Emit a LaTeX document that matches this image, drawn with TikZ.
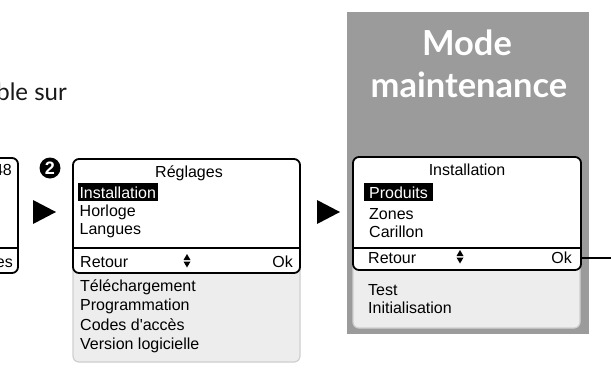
\documentclass[tikz,border=0pt]{standalone}
\usepackage{fontspec}
\setmainfont{Liberation Sans}[Ligatures=TeXOff]
\newfontfamily\latofont{Lato}
\definecolor{modegray}{HTML}{9B9B9B}
\definecolor{listgray}{HTML}{EDEDED}
\definecolor{listedge}{HTML}{CFCFCF}
\begin{document}
\begin{tikzpicture}[x=1pt,y=-1pt,
  lcd/.style={draw=black,line width=1.8pt,rounded corners=6pt,fill=white,inner sep=0pt},
  listpanel/.style={draw=listedge,line width=1.2pt,fill=listgray,rounded corners=6pt},
  menutext/.style={font=\fontsize{16}{19}\selectfont,inner sep=0pt,anchor=base west},
  selitem/.style={font=\fontsize{16}{19}\selectfont,fill=black,text=white,anchor=base west,text height=11.5pt,text depth=0pt,inner ysep=3.2pt},
  titletext/.style={font=\latofont\bfseries\fontsize{34.5}{40}\selectfont,text=white,inner sep=0pt,anchor=base},
  nextarrow/.style={fill=black},
]
\useasboundingbox (0,0) rectangle (611,381);
\clip (0,0) rectangle (611,381);

% intro text (cut at left edge)
\node[font=\latofont\fontsize{24}{28}\selectfont,text=black!90,inner sep=0pt,anchor=base east] (intro) at (67,100) {ble sur};

% left partial screen
\node[lcd,minimum width=60pt,minimum height=115pt] (prev) at (-12,215.5) {};
\draw[line width=1.8pt] (prev.west |- 0,248) -- (prev.east |- 0,248);
\node[menutext,anchor=base east] (prev48) at (12,175) {48};
\node[menutext,anchor=base east] (preves) at (13,267) {es};

% step number
\node[circle,fill=black,minimum size=21pt,inner sep=0pt,text=white,font=\bfseries\fontsize{18}{18}\selectfont] (step2) at (50,168) {2};
\fill[nextarrow] (33,200) -- (56,212) -- (33,224) -- cycle;

% Reglages screen
\draw[listpanel] (73,245) rectangle (300,362);
\node[lcd,minimum width=227pt,minimum height=114pt] (regl) at (186.5,216) {};
\draw[line width=1.8pt] (regl.west |- 0,248) -- (regl.east |- 0,248);
\node[menutext,anchor=base] (reglTitle) at (189,177) {Réglages};
\node[selitem,inner xsep=1.6pt] (reglInst) at (77.7,198) {Installation};
\node[menutext] (reglHorl) at (79.5,216) {Horloge};
\node[menutext] (reglLang) at (79.5,234) {Langues};
\node[menutext] (reglRet) at (80,267) {Retour};
\node[menutext,anchor=base east] (reglOk) at (293,267) {Ok};
\fill (183.5,260) -- (187,254) -- (190.5,260) -- cycle;
\fill (183.5,261.5) -- (187,267.5) -- (190.5,261.5) -- cycle;
\node[menutext] (reglTele) at (80,291) {Téléchargement};
\node[menutext] (reglProg) at (80,310.5) {Programmation};
\node[menutext] (reglCode) at (80,330) {Codes d'accès};
\node[menutext] (reglVers) at (80,349.5) {Version logicielle};

\fill[nextarrow] (317,200) -- (340,212) -- (317,224) -- cycle;

% Mode maintenance panel
\fill[modegray] (347,12) rectangle (589,334);
\node[titletext] (modeT1) at (467,55) {Mode};
\node[titletext] (modeT2) at (469,97) {maintenance};
\draw[listpanel] (353,240) rectangle (580,328);
\node[lcd,minimum width=228pt,minimum height=113pt] (inst) at (467,213.5) {};
\draw[line width=1.8pt] (inst.west |- 0,248) -- (inst.east |- 0,248);
\node[menutext,anchor=base] (instTitle) at (467,175) {Installation};
\node[selitem,inner xsep=5pt] (instProd) at (364,198) {Produits};
\node[menutext] (instZone) at (369,219) {Zones};
\node[menutext] (instCari) at (369,237) {Carillon};
\node[menutext] (instRet) at (368,263) {Retour};
\node[menutext,anchor=base east] (instOk) at (572,263) {Ok};
\fill (456.5,256) -- (460,250) -- (463.5,256) -- cycle;
\fill (456.5,257.5) -- (460,263.5) -- (463.5,257.5) -- cycle;
\node[menutext] (instTest) at (368,295) {Test};
\node[menutext] (instInit) at (368,313) {Initialisation};

% exit connector
\coordinate (exitR) at (612,258);
\draw[line width=1.5pt] (inst.east |- exitR) -- (exitR);
\end{tikzpicture}
\end{document}
